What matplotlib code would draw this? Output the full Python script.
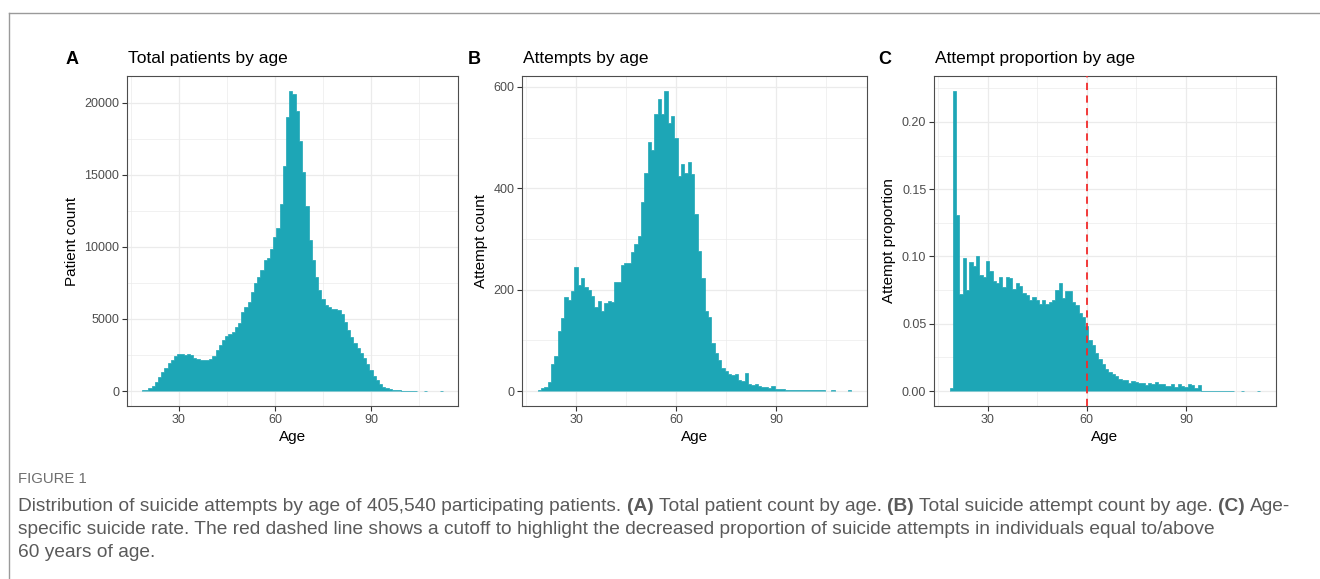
import matplotlib
matplotlib.use("Agg")
import matplotlib.pyplot as plt
from matplotlib import font_manager
from matplotlib.lines import Line2D
from matplotlib.ticker import FixedLocator, FormatStrFormatter

# one bar per year of age (19..112)
ages = list(range(19, 113))

patients = [
    50, 90, 180, 350, 600, 950, 1300, 1620, 1950, 2180,            # 19-28
    2400, 2570, 2540, 2530, 2540, 2500, 2320, 2200, 2150, 2130,    # 29-38
    2170, 2250, 2450, 2850, 3200, 3550, 3800, 3950, 4100, 4450,    # 39-48
    4700, 5450, 5800, 6200, 6850, 7480, 7900, 8400, 9050, 9250,    # 49-58
    9850, 10650, 11300, 13000, 15600, 19000, 20800, 20600, 19400, 17350,  # 59-68
    15200, 12800, 10450, 9100, 7900, 6980, 6380, 5990, 5820, 5700,  # 69-78
    5690, 5600, 5370, 4770, 4260, 3730, 3340, 2990, 2650, 2300,    # 79-88
    1840, 1430, 1040, 760, 460, 280, 180, 115, 80, 55,             # 89-98
    40, 30, 20, 15, 10, 8, 0, 0, 3, 0,                             # 99-108
    0, 0, 0, 2,                                                    # 109-112
]

attempts = [
    2, 5, 8, 18, 54, 69, 118, 144, 186, 180,        # 19-28
    197, 244, 210, 223, 205, 199, 188, 166, 177, 157,  # 29-38
    174, 177, 176, 215, 215, 249, 252, 252, 275, 290,  # 39-48
    305, 372, 431, 492, 475, 547, 577, 547, 592, 528,  # 49-58
    543, 500, 424, 447, 430, 451, 428, 350, 277, 223,  # 59-68
    157, 146, 95, 75, 62, 46, 40, 33, 31, 34,          # 69-78
    22, 20, 35, 14, 11, 13, 9, 7, 8, 6,                # 79-88
    10, 4, 4, 3, 2, 2, 1, 1, 1, 1,                     # 89-98
    1, 1, 1, 1, 1, 1, 0, 0, 1, 0,                      # 99-108
    0, 0, 0, 1,                                        # 109-112
]

proportion = [
    0.002, 0.223, 0.131, 0.072, 0.099, 0.075, 0.096, 0.093, 0.100, 0.086,   # 19-28
    0.085, 0.097, 0.089, 0.082, 0.080, 0.085, 0.077, 0.085, 0.084, 0.076,   # 29-38
    0.080, 0.078, 0.073, 0.071, 0.068, 0.070, 0.068, 0.065, 0.068, 0.065,   # 39-48
    0.066, 0.068, 0.075, 0.080, 0.069, 0.074, 0.074, 0.066, 0.064, 0.058,   # 49-58
    0.055, 0.048, 0.038, 0.0345, 0.028, 0.0235, 0.0198, 0.0165, 0.014, 0.0124,  # 59-68
    0.011, 0.009, 0.008, 0.008, 0.006, 0.0074, 0.0067, 0.0057, 0.0057, 0.0042,  # 69-78
    0.006, 0.005, 0.0067, 0.005, 0.005, 0.0037, 0.0037, 0.005, 0.0032, 0.0054,  # 79-88
    0.0037, 0.003, 0.005, 0.0042, 0.0025, 0.0042, 0.0003, 0.0003, 0.0003, 0.0003,  # 89-98
    0.0003, 0.0003, 0.0003, 0.0003, 0.0003, 0.0003, 0, 0, 0.0003, 0,        # 99-108
    0, 0, 0, 0.0003,                                                        # 109-112
]

letters = ["A", "B", "C"]
titles = ["Total patients by age", "Attempts by age", "Attempt proportion by age"]
ylabels = ["Patient count", "Attempt count", "Attempt proportion"]
xlabel = "Age"
x_ticks = [30, 60, 90]
y_ticks = [[0, 5000, 10000, 15000, 20000], [0, 200, 400, 600], [0.0, 0.05, 0.10, 0.15, 0.20]]
cutoff_age = 60

caption_head = "FIGURE 1"
caption_lines = [
    [("Distribution of suicide attempts by age of 405,540 participating patients.", "normal"),
     ("(A)", "bold"), ("Total patient count by age.", "normal"),
     ("(B)", "bold"), ("Total suicide attempt count by age.", "normal"),
     ("(C)", "bold"), ("Age-", "normal")],
    [("specific suicide rate. The red dashed line shows a cutoff to highlight the decreased "
      "proportion of suicide attempts in individuals equal to/above", "normal")],
    [("60 years of age.", "normal")],
]

TEAL = "#1DA6B6"
GRID = "#EBEBEB"

plt.rcParams["font.family"] = ["Liberation Sans", "DejaVu Sans"]

W, H = 1320, 579
fig = plt.figure(figsize=(W / 100, H / 100), dpi=100)

# panel boxes in pixels: left, top, right, bottom
boxes = [(127, 76, 458, 406), (522, 76, 867, 406), (934, 76, 1276, 406)]
letter_x = [66, 468, 878]
ylabel_x = [72, 481, 889]


def fx(px):
    return px / W


def fy(py):
    return 1 - py / H


def draw_hist(ax, vals):
    # one filled step outline per run of non-empty bins, so no seams between bars
    run = []
    for a, v in list(zip(ages, vals)) + [(None, 0)]:
        if v > 0:
            run.append((a, v))
        elif run:
            edges = [run[0][0] - 0.5] + [r[0] + 0.5 for r in run]
            ax.stairs([r[1] for r in run], edges, fill=True, facecolor=TEAL,
                      edgecolor=TEAL, linewidth=0.5, zorder=2)
            run = []


series = [patients, attempts, proportion]
for i, (l, t, r, b) in enumerate(boxes):
    ax = fig.add_axes([fx(l), fy(b), (r - l) / W, (b - t) / H])
    vals = series[i]
    draw_hist(ax, vals)
    top = max(vals)
    ax.set_ylim(-0.05 * top, 1.05 * top)
    ax.set_xlim(13.8, 117.2)

    ax.xaxis.set_major_locator(FixedLocator(x_ticks))
    ax.xaxis.set_minor_locator(FixedLocator([15, 45, 75, 105]))
    yt = y_ticks[i]
    step = yt[1] - yt[0]
    ax.yaxis.set_major_locator(FixedLocator(yt))
    ax.yaxis.set_minor_locator(FixedLocator([v + step / 2 for v in yt]))
    if i == 2:
        ax.yaxis.set_major_formatter(FormatStrFormatter("%.2f"))

    ax.grid(which="major", color=GRID, linewidth=0.9, zorder=0)
    ax.grid(which="minor", color=GRID, linewidth=0.5, zorder=0)
    ax.set_axisbelow(True)
    for s in ax.spines.values():
        s.set_color("#4D4D4D")
        s.set_linewidth(0.8)
    ax.tick_params(which="major", length=3.5, width=0.8, color="#333333",
                   labelsize=9, labelcolor="#4D4D4D", pad=2)
    ax.tick_params(which="minor", length=0)

    if i == 2:
        ax.axvline(cutoff_age, color="#F22B2B", linewidth=1.3,
                   linestyle=(0, (4, 3)), zorder=3)

    fig.text(fx((l + r) / 2), fy(437), xlabel, ha="center", va="center", fontsize=11)
    fig.text(fx(ylabel_x[i]), fy((t + b) / 2), ylabels[i], ha="center", va="center",
             rotation=90, fontsize=11)
    fig.text(fx(letter_x[i]), fy(60), letters[i], ha="left", va="center",
             fontsize=13, weight="bold")
    fig.text(fx(l + 1), fy(59), titles[i], ha="left", va="center", fontsize=12.5)

# thin frame round the figure (top and left edges)
frame = "#9A9A9A"
fig.add_artist(Line2D([fx(9), 1], [fy(13), fy(13)], color=frame, linewidth=1))
fig.add_artist(Line2D([fx(9), fx(9)], [fy(13), 0], color=frame, linewidth=1))

# caption
names = {f.name for f in font_manager.fontManager.ttflist}
cap_font = "Liberation Sans Narrow" if "Liberation Sans Narrow" in names else "Liberation Sans"
renderer = fig.canvas.get_renderer()


def text_width(s, size, weight="normal"):
    t = fig.text(0, 0, s, fontsize=size, weight=weight, family=cap_font)
    w = t.get_window_extent(renderer=renderer).width
    t.remove()
    return w


def line_width(parts, size):
    space = text_width("a a", size) - text_width("aa", size)
    total = sum(text_width(s, size, wt) for s, wt in parts)
    return total + space * (len(parts) - 1)


base = 10
cap_size = base * (1280 / line_width(caption_lines[0], base))
space_w = text_width("a a", cap_size) - text_width("aa", cap_size)

fig.text(fx(18), fy(483), caption_head, fontsize=cap_size * 0.78, color="#6E6E6E",
         family=cap_font, va="baseline")
for k, parts in enumerate(caption_lines):
    x = 18
    y = 511 + 23 * k
    for s, wt in parts:
        fig.text(fx(x), fy(y), s, fontsize=cap_size, weight=wt, color="#5A5A5A",
                 family=cap_font, va="baseline")
        x += text_width(s, cap_size, wt) + space_w

fig.savefig("out.png", dpi=100, facecolor="white")
